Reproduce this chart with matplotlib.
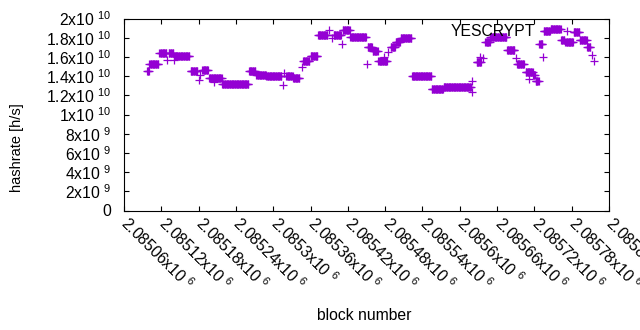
import numpy as np
import matplotlib
matplotlib.use("Agg")
import matplotlib.pyplot as plt
from matplotlib.transforms import ScaledTranslation

# --- DATOS (tramos de bloques consecutivos con la misma tasa) ---
seg_start = [2085097, 2085101, 2085117, 2085129, 2085132, 2085140, 2085141, 2085167,
             2085181, 2085183, 2085186, 2085197, 2085205, 2085218, 2085261, 2085273,
             2085289, 2085315, 2085318, 2085321, 2085332, 2085346, 2085348, 2085360,
             2085372, 2085390, 2085395, 2085397, 2085411, 2085412, 2085424, 2085451,
             2085452, 2085460, 2085469, 2085478, 2085484, 2085489, 2085497, 2085505,
             2085523, 2085555, 2085574, 2085619, 2085620, 2085627, 2085632, 2085637,
             2085641, 2085649, 2085676, 2085690, 2085692, 2085706, 2085712, 2085718,
             2085722, 2085728, 2085734, 2085735, 2085746, 2085763, 2085770, 2085783,
             2085793, 2085805, 2085812, 2085816]
seg_end = [2085100, 2085115, 2085128, 2085129, 2085139, 2085140, 2085165, 2085178,
           2085181, 2085183, 2085195, 2085217, 2085205, 2085260, 2085271, 2085288,
           2085313, 2085315, 2085318, 2085331, 2085342, 2085346, 2085358, 2085371,
           2085387, 2085390, 2085395, 2085409, 2085411, 2085423, 2085449, 2085451,
           2085459, 2085468, 2085483, 2085478, 2085484, 2085496, 2085504, 2085522,
           2085554, 2085573, 2085618, 2085619, 2085620, 2085634, 2085632, 2085637,
           2085648, 2085675, 2085688, 2085690, 2085703, 2085717, 2085712, 2085721,
           2085727, 2085733, 2085734, 2085745, 2085762, 2085768, 2085782, 2085792,
           2085804, 2085810, 2085812, 2085816]
seg_rate = [1.450e10, 1.529e10, 1.638e10, 1.571e10, 1.638e10, 1.565e10, 1.606e10, 1.450e10,
            1.363e10, 1.415e10, 1.460e10, 1.380e10, 1.335e10, 1.318e10, 1.450e10, 1.415e10,
            1.398e10, 1.304e10, 1.432e10, 1.398e10, 1.380e10, 1.492e10, 1.554e10, 1.606e10,
            1.825e10, 1.883e10, 1.797e10, 1.825e10, 1.734e10, 1.877e10, 1.804e10, 1.526e10,
            1.700e10, 1.665e10, 1.554e10, 1.599e10, 1.648e10, 1.700e10, 1.755e10, 1.797e10,
            1.404e10, 1.266e10, 1.286e10, 1.231e10, 1.346e10, 1.544e10, 1.596e10, 1.589e10,
            1.755e10, 1.804e10, 1.675e10, 1.589e10, 1.529e10, 1.446e10, 1.373e10, 1.411e10,
            1.346e10, 1.738e10, 1.599e10, 1.867e10, 1.891e10, 1.779e10, 1.755e10, 1.856e10,
            1.779e10, 1.700e10, 1.617e10, 1.560e10]

x_ticks = list(range(2085060, 2085841, 60))
y_ticks = [0, 2e9, 4e9, 6e9, 8e9, 1e10, 1.2e10, 1.4e10, 1.6e10, 1.8e10, 2e10]

# un punto por bloque dentro de cada tramo
blocks = []
rates = []
for s, e, r in zip(seg_start, seg_end, seg_rate):
    for b in range(s, e + 1):
        blocks.append(b)
        rates.append(r)

plt.rcParams['font.family'] = ['Liberation Sans', 'DejaVu Sans']
plt.rcParams['mathtext.fontset'] = 'custom'
plt.rcParams['mathtext.rm'] = 'Liberation Sans'
plt.rcParams['font.size'] = 11.3


def sci_label(v):
    if v == 0:
        return '0'
    exp = int(np.floor(np.log10(v)))
    mant = v / 10 ** exp
    return '%gx10 $^{\\mathregular{%d}}$' % (round(mant, 5), exp)


fig = plt.figure(figsize=(6.4, 3.3), dpi=100)
ax = fig.add_axes([124 / 640, 1 - 210.5 / 330, 485 / 640, 192 / 330])

ax.plot(blocks, rates, linestyle='none', marker='+', ms=5.3, mew=0.9,
        color='#9400D3', label='YESCRYPT')

ax.set_xlim(2085060, 2085840)
ax.set_ylim(0, 2e10)
ax.set_xticks(x_ticks)
ax.set_xticklabels([sci_label(t) for t in x_ticks], rotation=-45,
                   ha='left', va='top', rotation_mode='anchor')
ax.set_yticks(y_ticks)
ax.set_yticklabels([sci_label(t) for t in y_ticks])
ax.tick_params(direction='in', length=3.5, width=0.8, top=True, right=True)
ax.tick_params(axis='y', pad=9)
ax.tick_params(axis='x', pad=4)
shift = ScaledTranslation(0.07, 0.03, fig.dpi_scale_trans)
for lbl in ax.get_xticklabels():
    lbl.set_transform(lbl.get_transform() + shift)
for sp in ax.spines.values():
    sp.set_linewidth(0.8)

fig.text(17 / 640, 1 - 148 / 330, 'hashrate [h/s]', rotation=90,
         ha='center', va='center', fontsize=10.5)
fig.text(364 / 640, 1 - 315 / 330, 'block number', ha='center', va='center',
         fontsize=11.3)

ax.legend(loc='upper right', bbox_to_anchor=(0.957, 0.97), frameon=False,
          markerfirst=False, handlelength=2.7, handletextpad=0.7,
          borderpad=0, borderaxespad=0)

fig.savefig('out.png', dpi=100)
